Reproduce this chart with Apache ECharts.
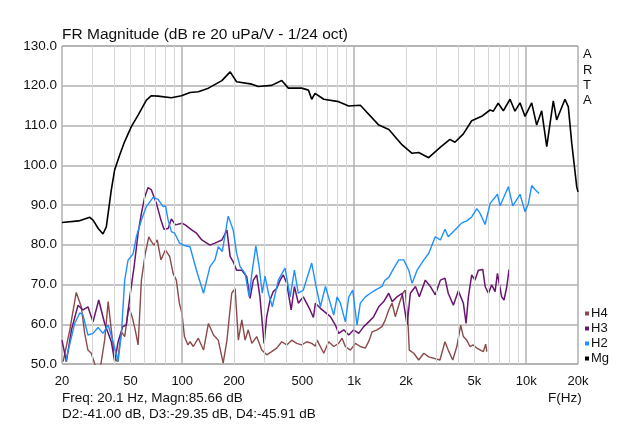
<!DOCTYPE html>
<html><head><meta charset="utf-8">
<script src="https://cdn.jsdelivr.net/npm/echarts@6/dist/echarts.min.js"></script>
<style>html,body{margin:0;padding:0;background:#fff}#c{width:640px;height:426px}</style>
</head><body><div id="c"></div>
<script>
var xTickLabels = [20, 50, 100, 200, 500, 1000, 2000, 5000, 10000, 20000];
var yTicks = [50, 60, 70, 80, 90, 100, 110, 120, 130];
var gridFreqs = [30,40,50,60,70,80,90,100,200,300,400,500,600,700,800,900,1000,2000,3000,4000,5000,6000,7000,8000,9000,10000];
var decadeFreqs = [100, 1000, 10000];
var seriesNames = ['H4', 'H3', 'H2', 'Mg'];

var mg = [[20,85.6],[25,86.0],[29,86.9],[30.3,86.2],[32.5,84.1],[34.6,82.7],[36.2,84.5],[38.7,93.8],[40.5,98.9],[43.3,102.6],[46.2,105.9],[50.6,109.7],[55.4,112.6],[61.9,116.4],[66.2,117.5],[72.3,117.4],[86.5,117.0],[99,117.5],[111,118.3],[124,118.5],[142,119.4],[170,121.3],[190,123.5],[207,121.0],[254,120.4],[277,119.8],[331,120.1],[379,121.3],[414,119.4],[495,119.4],[542,118.9],[566,116.6],[592,118.1],[608,118.5],[665,116.6],[812,116.0],[928,114.9],[1085,115.1],[1390,110.1],[1590,109.0],[1900,105.1],[2170,103.0],[2370,103.2],[2710,101.9],[3160,104.5],[3600,106.5],[3850,105.8],[4310,107.9],[4820,111.2],[5510,112.3],[6160,113.9],[6440,113.6],[6870,115.6],[7360,113.7],[8050,116.6],[8600,113.6],[9200,115.7],[9840,112.3],[10760,115.7],[11500,110.1],[12300,113.7],[13160,104.7],[14370,116.2],[15030,111.4],[16800,116.6],[17570,114.7],[18400,105.5],[18760,105.9],[19660,94.6],[20000,93.3]];

var h2 = [[21,50.6],[23.7,60.2],[25.4,62.9],[26.5,62.3],[28.3,57.3],[30.3,57.7],[32.4,59.2],[34.6,57.7],[37.1,59.8],[39.6,55.6],[42.4,50.6],[44.3,57.7],[46.3,71.1],[48.4,76.1],[51.8,77.7],[54.1,82.0],[57.9,86.2],[61.9,89.6],[67.7,91.9],[72.4,91.4],[77.4,89.6],[80,89.8],[82.8,86.2],[86.5,83.3],[90.4,82.9],[96.2,80.5],[103,79.8],[111,79.5],[121,73.6],[133,67.8],[145,74.5],[155,76.2],[162,79.5],[171,78.3],[185,87.2],[198,83.7],[207,77.9],[217,74.5],[232,72.8],[245,66.9],[254,72.8],[268,79.7],[280,74.5],[292,67.8],[303,72.1],[317,67.8],[334,64.4],[362,71.1],[396,74.1],[424,66.9],[449,73.6],[473,67.8],[506,68.6],[566,75.4],[600,69.5],[636,64.4],[680,69.5],[760,62.3],[795,66.9],[831,65.3],[888,60.6],[930,66.9],[980,68.6],[1038,59.8],[1085,65.3],[1160,66.9],[1240,67.8],[1326,68.6],[1451,69.5],[1504,71.0],[1587,71.8],[1700,74.1],[1815,76.2],[1940,76.2],[2075,73.6],[2170,70.3],[2320,73.6],[2540,76.2],[2710,77.8],[2960,82.0],[3170,81.2],[3370,83.9],[3520,82.0],[3850,83.7],[4220,85.5],[4510,86.0],[4820,87.0],[5160,89.1],[5390,87.9],[5770,85.1],[6170,90.4],[6800,92.7],[7050,89.8],[7870,94.6],[8350,89.8],[9210,92.7],[9840,88.3],[10300,90.4],[10760,94.9],[11250,93.9],[11870,92.9]];

var h3 = [[20,56.0],[21.2,50.6],[22.7,58.6],[24.8,64.8],[26.5,63.6],[28.3,64.4],[30.3,60.6],[32.7,66.1],[35.4,60.2],[38.7,55.6],[40.5,50.6],[42.4,55.6],[45.1,59.4],[47.3,59.8],[49.6,66.9],[52.5,74.5],[55.4,82.9],[57.9,87.9],[60.6,92.1],[63.3,94.4],[66.2,93.8],[70.8,90.4],[75.2,86.2],[78.3,83.9],[82.8,84.1],[86.5,86.5],[91.3,85.0],[99.7,85.4],[104,85.0],[114,83.7],[121,82.9],[130,81.2],[145,79.9],[155,80.4],[170,81.2],[182,83.7],[190,77.0],[198,75.7],[207,73.6],[222,73.6],[237,72.0],[248,66.5],[259,71.1],[271,72.4],[283,66.9],[299,55.2],[310,61.9],[324,66.1],[338,68.2],[354,69.0],[371,71.1],[387,72.4],[405,70.3],[430,63.6],[449,69.5],[473,65.3],[506,66.9],[554,63.6],[579,61.7],[595,65.3],[636,64.0],[727,61.9],[777,59.8],[812,57.7],[869,58.6],[930,57.3],[993,58.6],[1062,57.7],[1136,59.4],[1214,60.6],[1298,61.9],[1388,64.4],[1484,65.7],[1587,67.8],[1660,65.7],[1774,66.9],[1900,67.8],[2030,59.8],[2120,67.8],[2270,69.5],[2390,66.9],[2590,71.1],[2770,69.5],[2960,67.4],[3170,71.1],[3370,71.6],[3520,67.8],[3770,64.8],[4030,68.4],[4310,65.3],[4470,60.2],[4610,66.9],[4820,72.4],[5030,71.1],[5270,73.6],[5590,73.8],[5770,69.5],[6030,67.8],[6300,69.9],[6590,68.2],[6800,72.8],[7200,66.9],[7430,66.1],[7710,69.5],[7950,73.8]];

var h4 = [[20.3,50.6],[22.2,58.6],[24.2,68.0],[25.9,64.4],[27.1,57.7],[28.3,53.5],[29.6,52.7],[31,50.0],[33.1,48],[35.4,56.0],[37.1,65.7],[38.7,58.6],[40.4,51.8],[42,50.6],[44.3,58.1],[46.3,56.9],[48.9,64.4],[51.1,61.9],[53.3,58.6],[55.4,54.8],[57.9,71.1],[61,77.8],[63.9,82.0],[66.2,80.8],[68.6,79.9],[71.6,81.2],[75.2,76.2],[79.8,78.7],[84.6,77.0],[88.5,72.8],[92.4,71.1],[96.2,65.3],[99.7,62.7],[103,56.9],[108,54.8],[111,55.6],[116,54.4],[124,56.5],[133,53.5],[142,60.2],[152,57.3],[162,56.0],[173,50.2],[182,56.0],[194,67.8],[203,69.0],[212,56.0],[222,61.1],[232,56.0],[242,58.6],[254,55.2],[271,56.9],[290,53.5],[310,52.3],[331,53.1],[354,54.0],[379,55.6],[405,54.8],[433,56.0],[463,55.2],[495,54.8],[530,55.6],[566,55.2],[595,54.5],[608,56.0],[665,52.7],[710,55.6],[760,54.4],[812,55.2],[850,56.5],[888,54.4],[950,53.5],[1015,55.2],[1085,54.4],[1160,54.0],[1224,56.0],[1270,58.1],[1357,58.6],[1451,59.4],[1516,61.1],[1587,63.6],[1660,65.3],[1733,61.9],[1830,65.3],[1915,67.8],[1980,68.6],[2055,60.2],[2090,53.5],[2220,52.7],[2370,51.0],[2540,52.7],[2710,51.8],[3150,51.0],[3370,55.6],[3520,53.5],[3740,51.0],[3950,54.4],[4160,59.8],[4310,56.9],[4510,56.0],[4710,54.4],[4920,54.8],[5160,54.0],[5630,53.1],[5810,55.0],[5900,53.1]];

var colors = {H4: '#8c4a4a', H3: '#6a1670', H2: '#1e90ff', Mg: '#000000'};
var FONT = 'Liberation Sans, Arial, sans-serif';

function fmtHz(v) { return v >= 1000 ? (v / 1000) + 'k' : String(v); }

var chart = echarts.init(document.getElementById('c'), null, {renderer: 'canvas'});

var gridLines = gridFreqs.map(function (f) {
  var dec = decadeFreqs.indexOf(f) >= 0;
  return {xAxis: f, lineStyle: {color: dec ? '#b0b0b0' : '#d6d6d6', width: dec ? 1.5 : 1, type: 'solid'}};
});

function lineSeries(name, data, w, z) {
  return {
    name: name, type: 'line', data: data, showSymbol: false, symbol: 'none',
    lineStyle: {color: colors[name], width: w}, itemStyle: {color: colors[name]},
    clip: true, z: z, animation: false
  };
}

var series = [
  {
    name: 'grid', type: 'line', data: [], silent: true, z: 1,
    markLine: {silent: true, symbol: 'none', label: {show: false}, animation: false, data: gridLines}
  },
  lineSeries('H4', h4, 1.4, 3),
  lineSeries('H3', h3, 1.5, 4),
  lineSeries('H2', h2, 1.4, 5),
  lineSeries('Mg', mg, 1.6, 6)
];

chart.setOption({
  animation: false,
  backgroundColor: '#ffffff',
  textStyle: {fontFamily: FONT},
  grid: {left: 62, top: 46, width: 516, height: 318, show: true, borderColor: '#888888', borderWidth: 1, backgroundColor: '#ffffff', z: 0},
  title: {
    text: 'FR Magnitude (dB re 20 uPa/V - 1/24 oct)', left: 57, top: 22,
    textStyle: {fontFamily: FONT, fontSize: 15.5, fontWeight: 'normal', color: '#111'}
  },
  legend: {
    data: seriesNames, orient: 'vertical', left: 580, top: 302,
    icon: 'rect', itemWidth: 4, itemHeight: 4, itemGap: 2,
    textStyle: {fontFamily: FONT, fontSize: 13, color: '#111', padding: [0, 0, 0, -3]},
    selectedMode: false
  },
  xAxis: {
    type: 'log', logBase: 10, min: 20, max: 20000,
    axisLine: {show: false}, axisTick: {show: false},
    splitLine: {show: false},
    axisLabel: {
      customValues: xTickLabels, formatter: function (v) { return fmtHz(Math.round(v)); },
      fontFamily: FONT, fontSize: 13, color: '#111', margin: 11
    }
  },
  yAxis: {
    type: 'value', min: 50, max: 130, interval: 10,
    axisLine: {show: false}, axisTick: {show: false},
    splitLine: {show: true, lineStyle: {color: '#b0b0b0', width: 1.5}},
    axisLabel: {formatter: function (v) { return v.toFixed(1); }, fontFamily: FONT, fontSize: 13.5, color: '#111', margin: 5}
  },
  graphic: [
    {type: 'text', left: 583, top: 47, style: {text: 'A\nR\nT\nA', font: '13px ' + FONT, lineHeight: 15.3, fill: '#111'}},
    {type: 'text', left: 62, top: 391, style: {text: 'Freq: 20.1 Hz, Magn:85.66 dB', font: '13.5px ' + FONT, fill: '#111'}},
    {type: 'text', left: 62, top: 407, style: {text: 'D2:-41.00 dB, D3:-29.35 dB, D4:-45.91 dB', font: '13.5px ' + FONT, fill: '#111'}},
    {type: 'text', left: 548, top: 391, style: {text: 'F(Hz)', font: '13.5px ' + FONT, fill: '#111'}}
  ],
  series: series
});
</script></body></html>
